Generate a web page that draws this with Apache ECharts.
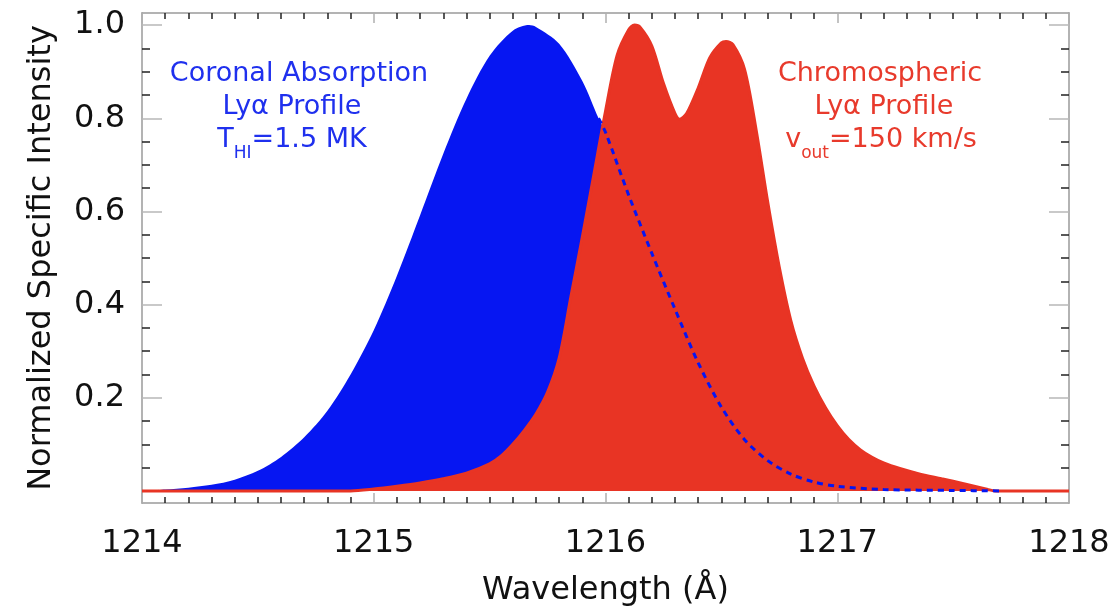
<!DOCTYPE html>
<html>
<head>
<meta charset="utf-8">
<script src="https://cdn.jsdelivr.net/npm/echarts@6/dist/echarts.min.js"></script>
<style>html,body{margin:0;padding:0;background:#fff}#c{width:1117px;height:615px}</style>
</head>
<body>
<div id="c"></div>
<script>
// Wavelength ticks
const xTicks = [1214, 1215, 1216, 1217, 1218];
const yTickLabels = [0.2, 0.4, 0.6, 0.8, 1.0];
const yMajorTicks = [0, 0.2, 0.4, 0.6, 0.8, 1.0];
const yMinorTicks = [0.05,0.1,0.15,0.25,0.3,0.35,0.45,0.5,0.55,0.65,0.7,0.75,0.85,0.9,0.95];

// Coronal absorption Lya profile (blue, full curve; the part right of the red flank is drawn dashed)
const blueX = [1214.05,1214.1,1214.2,1214.3,1214.4,1214.5,1214.6,1214.7,1214.8,1214.9,1215.0,1215.1,1215.2,1215.3,1215.4,1215.5,1215.6,1215.67,1215.7,1215.8,1215.9,1215.97,1216.0,1216.1,1216.2,1216.3,1216.4,1216.5,1216.6,1216.7,1216.8,1216.9,1217.0,1217.2,1217.5,1217.7];
const blueY = [0.001,0.003,0.007,0.013,0.024,0.043,0.073,0.115,0.172,0.250,0.345,0.462,0.592,0.724,0.842,0.934,0.988,1.000,0.996,0.960,0.880,0.800,0.770,0.635,0.510,0.390,0.275,0.180,0.110,0.065,0.036,0.019,0.010,0.003,0.001,0.000];
// Hidden (dashed) part of the blue profile starts at this wavelength
const blueDashStart = 1215.97;

// Chromospheric Lya profile (red)
const redX = [1214.00,1214.90,1215.0,1215.1,1215.2,1215.3,1215.4,1215.5,1215.55,1215.6,1215.65,1215.7,1215.75,1215.8,1215.85,1215.9,1215.95,1216.0,1216.05,1216.1,1216.125,1216.15,1216.2,1216.25,1216.3,1216.32,1216.35,1216.4,1216.45,1216.5,1216.52,1216.55,1216.6,1216.65,1216.7,1216.75,1216.8,1216.85,1216.9,1216.95,1217.0,1217.05,1217.1,1217.15,1217.2,1217.27,1217.35,1217.45,1217.55,1217.65,1217.68,1218.00];
const redY = [0,0,0.004,0.010,0.017,0.026,0.038,0.058,0.075,0.100,0.130,0.165,0.212,0.285,0.415,0.545,0.680,0.815,0.935,0.990,1.000,0.995,0.955,0.875,0.810,0.798,0.810,0.865,0.930,0.962,0.965,0.958,0.905,0.775,0.620,0.480,0.365,0.285,0.225,0.178,0.140,0.110,0.088,0.072,0.060,0.048,0.037,0.026,0.015,0.003,0,0];

const FONT = '"DejaVu Sans", sans-serif';
const BLUE = '#0616f2';
const RED = '#e83424';
const BLUE_TXT = '#1f30ee';
const RED_TXT = '#e83a2c';
const FRAME = '#9a9a9a';

const bluePts = blueX.map((x, i) => [x, blueY[i]]);
const blueDash = bluePts.filter(p => p[0] >= blueDashStart);
const redPts = redX.map((x, i) => [x, redY[i]]);

const Y_MIN = -0.026, Y_MAX = 1.026;

function xAx(pos, showLabel) {
  return {
    type: 'value', position: pos, min: xTicks[0], max: xTicks[xTicks.length - 1], interval: 1,
    axisLine: { show: true, onZero: false, lineStyle: { color: FRAME, width: 1.5 } },
    axisTick: { show: true, inside: true, length: 10, lineStyle: { color: '#b0b0b0', width: 1.5 } },
    minorTick: { show: true, splitNumber: 10, length: 6, lineStyle: { color: '#222', width: 1.5 } },
    splitLine: { show: false }, minorSplitLine: { show: false },
    axisLabel: { show: showLabel, formatter: v => String(Math.round(v)), fontSize: 32, fontFamily: FONT, color: '#111', margin: 25 },
    name: showLabel ? 'Wavelength (Å)' : '', nameLocation: 'middle', nameGap: 72,
    nameTextStyle: { fontSize: 32, fontFamily: FONT, color: '#111' }
  };
}
function yAx(pos, major, showLabel) {
  return {
    type: 'value', position: pos, min: Y_MIN, max: Y_MAX,
    axisLine: { show: major, onZero: false, lineStyle: { color: FRAME, width: 1.5 } },
    axisTick: major
      ? { show: true, inside: true, length: 20, customValues: yMajorTicks, lineStyle: { color: '#b8b8b8', width: 1.5 } }
      : { show: true, inside: true, length: 8, customValues: yMinorTicks, lineStyle: { color: '#222', width: 1.5 } },
    splitLine: { show: false },
    axisLabel: showLabel
      ? { show: true, customValues: yTickLabels, formatter: v => v.toFixed(1), fontSize: 32, fontFamily: FONT, color: '#111', margin: 17 }
      : { show: false },
    name: showLabel ? 'Normalized Specific Intensity' : '', nameLocation: 'middle', nameGap: 84, nameRotate: 90,
    nameTextStyle: { fontSize: 32, fontFamily: FONT, color: '#111' }
  };
}

function label(x, y, text, color, rich) {
  return {
    type: 'text', x: x, y: y, z: 100,
    style: {
      text: text, fill: color, font: '27px ' + FONT, align: 'center', verticalAlign: 'middle',
      rich: rich || undefined
    }
  };
}
const richBlue = {
  n: { fontSize: 27, fontFamily: FONT, color: BLUE_TXT, lineHeight: 44 },
  s: { fontSize: 17, fontFamily: FONT, color: BLUE_TXT, lineHeight: 17, verticalAlign: 'bottom' }
};
const richRed = {
  n: { fontSize: 27, fontFamily: FONT, color: RED_TXT, lineHeight: 44 },
  s: { fontSize: 17, fontFamily: FONT, color: RED_TXT, lineHeight: 17, verticalAlign: 'bottom' }
};

const chart = echarts.init(document.getElementById('c'), null, { renderer: 'canvas' });
chart.setOption({
  animation: false,
  backgroundColor: '#fff',
  grid: { left: 142, right: 48, top: 13, bottom: 112, containLabel: false },
  xAxis: [xAx('bottom', true), xAx('top', false)],
  yAxis: [yAx('left', true, true), yAx('right', true, false), yAx('left', false, false), yAx('right', false, false)],
  series: [
    { type: 'line', name: 'Coronal', data: bluePts, xAxisIndex: 0, yAxisIndex: 0, showSymbol: false, smooth: 0.3,
      lineStyle: { width: 0, color: BLUE }, areaStyle: { color: BLUE, opacity: 1 }, z: 2 },
    { type: 'line', name: 'Chromospheric', data: redPts, xAxisIndex: 0, yAxisIndex: 0, showSymbol: false, smooth: 0.3,
      lineStyle: { width: 3, color: RED }, areaStyle: { color: RED, opacity: 1 }, z: 3 },
    { type: 'line', name: 'Coronal hidden', data: blueDash, xAxisIndex: 0, yAxisIndex: 0, showSymbol: false, smooth: 0.3,
      lineStyle: { width: 3, color: BLUE, type: [6, 5] }, z: 4 }
  ],
  graphic: [
    label(299, 74, 'Coronal Absorption', BLUE_TXT),
    label(292, 107, 'Lyα Profile', BLUE_TXT),
    label(292, 140, '{n|T}{s|HI}{n|=1.5 MK}', BLUE_TXT, richBlue),
    label(880, 74, 'Chromospheric', RED_TXT),
    label(884, 107, 'Lyα Profile', RED_TXT),
    label(881, 140, '{n|v}{s|out}{n|=150 km/s}', RED_TXT, richRed)
  ]
});
</script>
</body>
</html>
